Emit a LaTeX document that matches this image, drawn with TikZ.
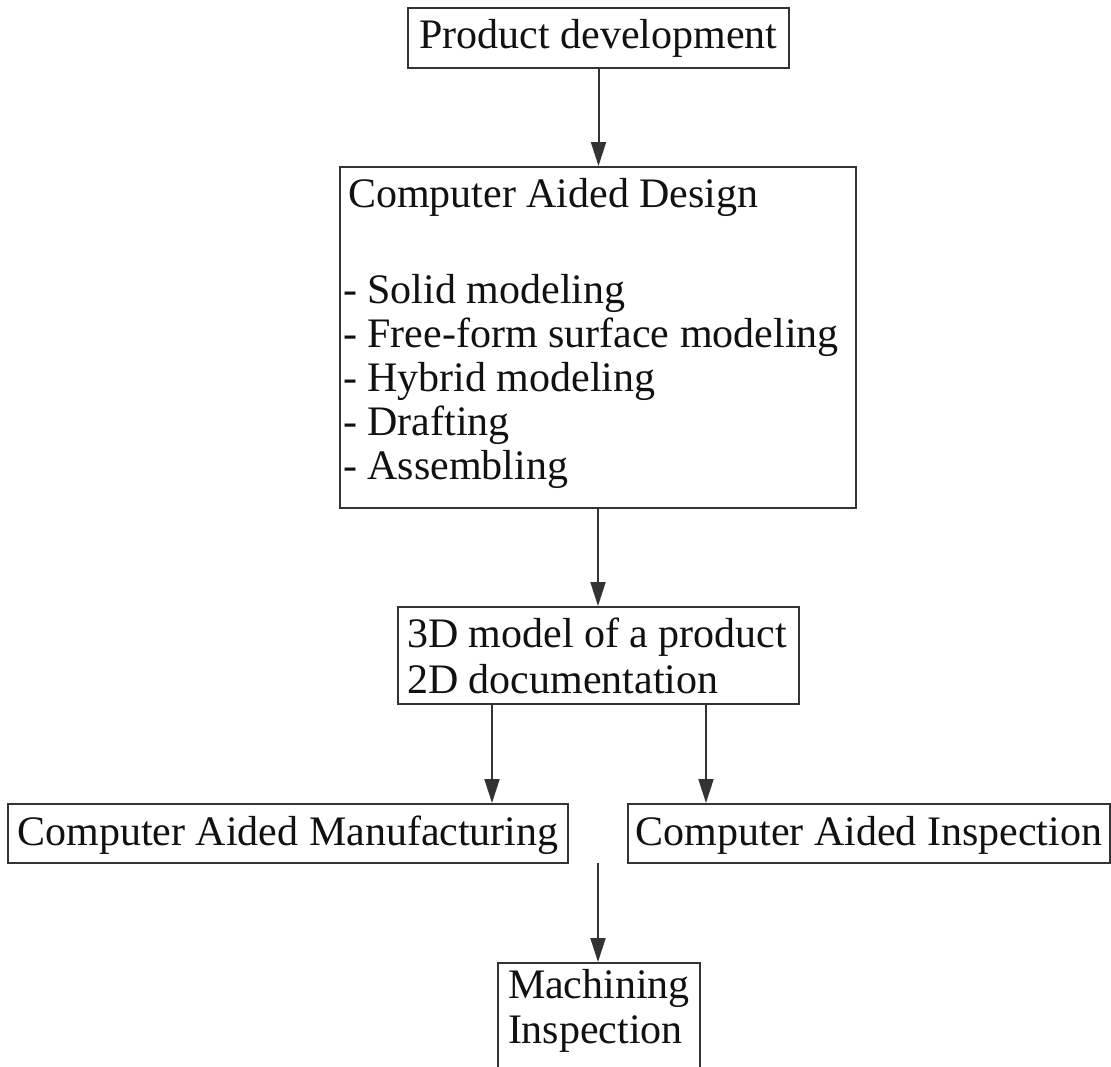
\documentclass[tikz,border=0pt]{standalone}
\usepackage{fontspec}
\setmainfont{Liberation Serif}
\usetikzlibrary{arrows.meta,calc}
\definecolor{linec}{HTML}{333333}
\definecolor{textc}{HTML}{111111}
\tikzset{
  box/.style={draw=linec, line width=2pt, inner ysep=0pt, text=textc, anchor=north west},
  arr/.style={draw=linec, line width=2pt, -{Triangle[length=24pt,width=15pt]}},
}
\begin{document}
\begin{tikzpicture}[x=1pt,y=-1pt]
\useasboundingbox (0,0) rectangle (1111,1066);
\clip (0,0) rectangle (1111,1066);
\fill[white] (0,0) rectangle (1111,1066);

\node[box, inner xsep=0pt, text width=381pt, align=flush center, text height=40pt, text depth=20pt,
      font=\fontsize{42}{45}\selectfont] (pd) at (407,7) {\mbox{Product development}};

\node[box, inner xsep=3pt, text width=510pt, align=flush left, text height=40pt, text depth=301pt,
      font=\fontsize{42}{44}\selectfont] (cad) at (339,166)
  {\hspace*{5pt}\mbox{Computer Aided Design}\\[52pt]\mbox{- Solid modeling}\\\mbox{- Free-form surface modeling}\\\mbox{- Hybrid modeling}\\\mbox{- Drafting}\\\mbox{- Assembling}};

\node[box, inner xsep=9pt, text width=383pt, align=flush left, text height=40pt, text depth=57pt,
      font=\fontsize{42}{46}\selectfont] (md) at (397,606)
  {\mbox{3D model of a product}\\\mbox{2D documentation}};

\node[box, inner xsep=0pt, text width=560pt, align=flush center, text height=41pt, text depth=18pt,
      font=\fontsize{42}{45}\selectfont] (cam) at (7,803) {\mbox{Computer Aided Manufacturing}};

\node[box, inner xsep=0pt, text width=482pt, align=flush center, text height=41pt, text depth=18pt,
      font=\fontsize{42}{45}\selectfont] (cai) at (627,803) {\mbox{Computer Aided Inspection}};

\node[box, inner xsep=10pt, text width=182pt, align=flush left, text height=35pt, text depth=95pt,
      font=\fontsize{42}{45}\selectfont] (mi) at (497,962)
  {\mbox{Machining}\\\mbox{Inspection}};

\coordinate (m0) at (598,863);

\draw[arr] (pd.south) -- (pd.south |- cad.north);
\draw[arr] (cad.south) -- (cad.south |- md.north);
\draw[arr] ([xshift=-106.5pt]md.south) -- ([xshift=-106.5pt]md.south |- cam.north);
\draw[arr] ([xshift=107.5pt]md.south) -- ([xshift=107.5pt]md.south |- cai.north);
\draw[arr] (m0) -- (m0 |- mi.north);
\end{tikzpicture}
\end{document}
